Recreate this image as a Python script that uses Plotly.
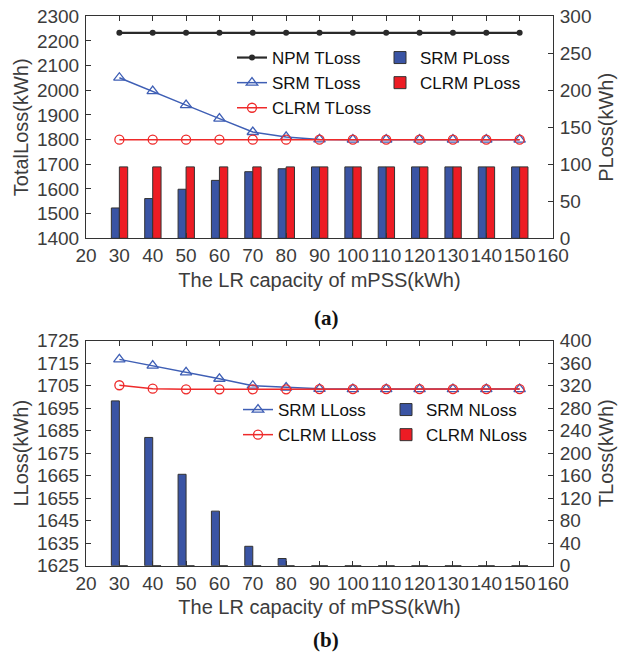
import plotly.graph_objects as go

# ---------------- data ----------------
capacity = [30, 40, 50, 60, 70, 80, 90, 100, 110, 120, 130, 140, 150]

# (a)
npm_tloss = [2233, 2233, 2233, 2233, 2233, 2233, 2233, 2233, 2233, 2233, 2233, 2233, 2233]
srm_tloss = [2051, 1997, 1940, 1885, 1831, 1811, 1801, 1800, 1800, 1800, 1800, 1800, 1800]
clrm_tloss = [1800, 1800, 1800, 1800, 1800, 1800, 1800, 1800, 1800, 1800, 1800, 1800, 1800]
srm_ploss = [41, 53.7, 66.3, 78.3, 90, 94, 96.5, 96.5, 96.5, 96.5, 96.5, 96.5, 96.5]
clrm_ploss = [96.5, 96.5, 96.5, 96.5, 96.5, 96.5, 96.5, 96.5, 96.5, 96.5, 96.5, 96.5, 96.5]

# (b)
srm_lloss = [1716.7, 1713.9, 1710.9, 1708.1, 1705.0, 1704.2, 1703.6, 1703.5, 1703.5, 1703.5, 1703.5, 1703.5, 1703.5]
clrm_lloss = [1705.2, 1703.7, 1703.4, 1703.4, 1703.4, 1703.4, 1703.5, 1703.5, 1703.5, 1703.5, 1703.5, 1703.5, 1703.5]
srm_nloss = [293, 228, 162.5, 97, 34.5, 12.8, 0, 0, 0, 0, 0, 0, 0]
clrm_nloss = [0, 0, 0, 0, 0, 0, 0, 0, 0, 0, 0, 0, 0]

x_ticks = [20, 30, 40, 50, 60, 70, 80, 90, 100, 110, 120, 130, 140, 150, 160]
ya_left_ticks = [1400, 1500, 1600, 1700, 1800, 1900, 2000, 2100, 2200, 2300]
ya_right_ticks = [0, 50, 100, 150, 200, 250, 300]
yb_left_ticks = [1625, 1635, 1645, 1655, 1665, 1675, 1685, 1695, 1705, 1715, 1725]
yb_right_ticks = [0, 40, 80, 120, 160, 200, 240, 280, 320, 360, 400]

# ---------------- style ----------------
BLUE_BAR = "#3a54a4"
RED_BAR = "#ed1c24"
BLUE_LINE = "#3f5fb5"
RED_LINE = "#ee2a2a"
DARK = "#333333"
TXT = "#3c3c3c"
FONT = "Liberation Sans, Arial, sans-serif"
FS = 19
FT = 20
FL = 17

fig = go.Figure()

# ---- (a) bars on right axis
fig.add_trace(go.Bar(x=capacity, y=srm_ploss, name="SRM PLoss", xaxis="x", yaxis="y2",
                     width=2.4, offset=-2.4, marker=dict(color=BLUE_BAR, line=dict(color=DARK, width=1)),
                     legend="legend2"))
fig.add_trace(go.Bar(x=capacity, y=clrm_ploss, name="CLRM PLoss", xaxis="x", yaxis="y2",
                     width=2.5, offset=0, marker=dict(color=RED_BAR, line=dict(color=DARK, width=1)),
                     legend="legend2"))
# ---- (a) lines on left axis
fig.add_trace(go.Scatter(x=capacity, y=npm_tloss, name="NPM TLoss", xaxis="x", yaxis="y",
                         mode="lines+markers", line=dict(color="#2a2a2a", width=2.2),
                         marker=dict(symbol="circle", size=6, color="#2a2a2a"), legend="legend"))
fig.add_trace(go.Scatter(x=capacity, y=srm_tloss, name="SRM TLoss", xaxis="x", yaxis="y",
                         mode="lines+markers", line=dict(color=BLUE_LINE, width=1.5),
                         marker=dict(symbol="triangle-up-open", size=10, color=BLUE_LINE, line=dict(width=1.3)),
                         legend="legend"))
fig.add_trace(go.Scatter(x=capacity, y=clrm_tloss, name="CLRM TLoss", xaxis="x", yaxis="y",
                         mode="lines+markers", line=dict(color=RED_LINE, width=1.5),
                         marker=dict(symbol="circle-open", size=9, color=RED_LINE, line=dict(width=1.3)),
                         legend="legend"))

# ---- (b) bars on right axis
fig.add_trace(go.Bar(x=capacity, y=srm_nloss, name="SRM NLoss", xaxis="x2", yaxis="y4",
                     width=2.4, offset=-2.4, marker=dict(color=BLUE_BAR, line=dict(color=DARK, width=1)),
                     legend="legend4"))
fig.add_trace(go.Bar(x=capacity, y=clrm_nloss, name="CLRM NLoss", xaxis="x2", yaxis="y4",
                     width=2.5, offset=0, marker=dict(color=RED_BAR, line=dict(color=DARK, width=1)),
                     legend="legend4"))
# ---- (b) lines on left axis
fig.add_trace(go.Scatter(x=capacity, y=srm_lloss, name="SRM LLoss", xaxis="x2", yaxis="y3",
                         mode="lines+markers", line=dict(color=BLUE_LINE, width=1.5),
                         marker=dict(symbol="triangle-up-open", size=10, color=BLUE_LINE, line=dict(width=1.3)),
                         legend="legend3"))
fig.add_trace(go.Scatter(x=capacity, y=clrm_lloss, name="CLRM LLoss", xaxis="x2", yaxis="y3",
                         mode="lines+markers", line=dict(color=RED_LINE, width=1.5),
                         marker=dict(symbol="circle-open", size=9, color=RED_LINE, line=dict(width=1.3)),
                         legend="legend3"))

W, H = 622, 657
xl, xr = 86 / W, 553 / W
a_dom = [1 - 238.3 / H, 1 - 16.3 / H]
b_dom = [1 - 565.7 / H, 1 - 340.7 / H]

axis_common = dict(showgrid=False, zeroline=False, showline=True, linecolor=DARK, linewidth=1,
                   ticks="inside", ticklen=5, tickcolor=DARK, automargin=False,
                   tickfont=dict(family=FONT, size=FS, color=TXT))
title_font = dict(family=FONT, size=FT, color=TXT)

leg_common = dict(font=dict(family=FONT, size=FL, color="#111111"), bgcolor="rgba(255,255,255,0)",
                  xanchor="left", yanchor="top", tracegroupgap=0, itemwidth=30)

fig.update_layout(
    width=W, height=H, margin=dict(l=0, r=0, t=0, b=0),
    paper_bgcolor="white", plot_bgcolor="white",
    barmode="overlay",
    font=dict(family=FONT, size=FS, color=TXT),
    xaxis=dict(domain=[xl, xr], anchor="y", range=[20, 160], tickvals=x_ticks, mirror="ticks",
               tickangle=0, ticklabelstandoff=0,
               title=dict(text="The LR capacity of mPSS(kWh)", font=title_font, standoff=7), **axis_common),
    yaxis=dict(domain=a_dom, anchor="x", range=[1400, 2300], tickvals=ya_left_ticks, ticklabelstandoff=2,
               title=dict(text="TotalLoss(kWh)", font=title_font, standoff=2), **axis_common),
    yaxis2=dict(domain=a_dom, anchor="x", overlaying="y", side="right", range=[0, 300], tickvals=ya_right_ticks,
                ticklabelstandoff=2,
                title=dict(text="PLoss(kWh)", font=title_font, standoff=8), **axis_common),
    xaxis2=dict(domain=[xl, xr], anchor="y3", range=[20, 160], tickvals=x_ticks, mirror="ticks",
                tickangle=0, ticklabelstandoff=0,
                title=dict(text="The LR capacity of mPSS(kWh)", font=title_font, standoff=7), **axis_common),
    yaxis3=dict(domain=b_dom, anchor="x2", range=[1625, 1725], tickvals=yb_left_ticks, ticklabelstandoff=2,
                title=dict(text="LLoss(kWh)", font=title_font, standoff=2), **axis_common),
    yaxis4=dict(domain=b_dom, anchor="x2", overlaying="y3", side="right", range=[0, 400], tickvals=yb_right_ticks,
                ticklabelstandoff=2,
                title=dict(text="TLoss(kWh)", font=title_font, standoff=8), **axis_common),
    legend=dict(x=232 / W, y=1 - 40 / H, **leg_common),
    legend2=dict(x=380 / W, y=1 - 40 / H, **leg_common),
    legend3=dict(x=238 / W, y=1 - 392 / H, **leg_common),
    legend4=dict(x=386 / W, y=1 - 392 / H, **leg_common),
    showlegend=True,
    annotations=[
        dict(text="<b>(a)</b>", x=326 / W, y=1 - 318 / H, xref="paper", yref="paper", showarrow=False,
             xanchor="center", yanchor="middle",
             font=dict(family="Liberation Serif, Times New Roman, serif", size=21, color="#111111")),
        dict(text="<b>(b)</b>", x=326 / W, y=1 - 640 / H, xref="paper", yref="paper", showarrow=False,
             xanchor="center", yanchor="middle",
             font=dict(family="Liberation Serif, Times New Roman, serif", size=21, color="#111111")),
    ],
)

fig.write_html("out.html")
